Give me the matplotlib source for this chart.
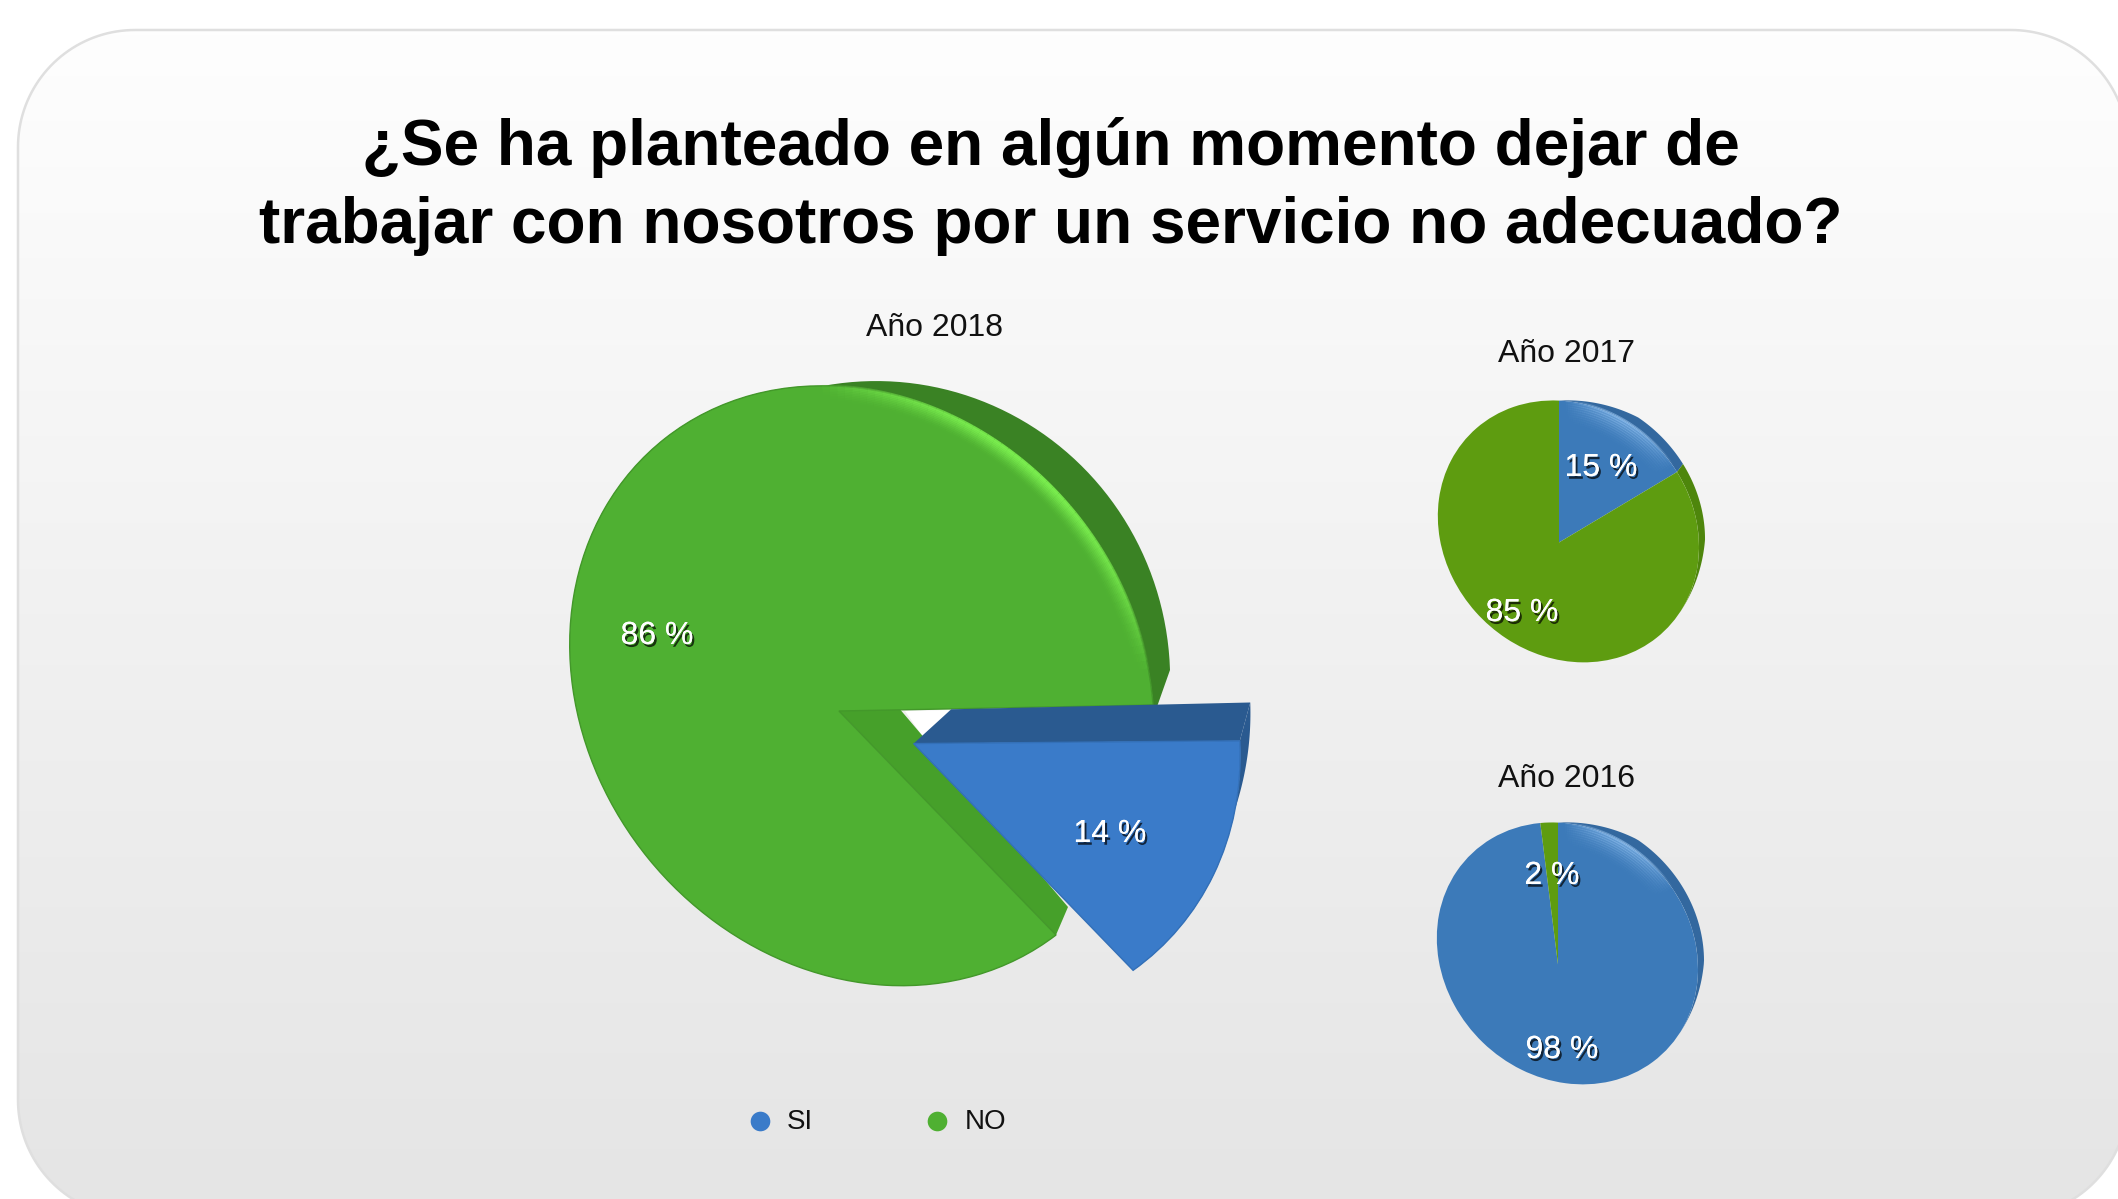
import numpy as np
import matplotlib
matplotlib.use('Agg')
import matplotlib.pyplot as plt
import matplotlib.patheffects as pe
from matplotlib.collections import LineCollection
from matplotlib.patches import Polygon
from matplotlib.transforms import Transform

plt.rcParams['font.family'] = ['Liberation Sans', 'DejaVu Sans']

title_lines = ['¿Se ha planteado en algún momento dejar de',
               'trabajar con nosotros por un servicio no adecuado?']
answers = ['SI', 'NO']
years = ['Año 2018', 'Año 2017', 'Año 2016']
values_2018 = [14, 86]
values_2017 = [15, 85]
values_2016 = [98, 2]

blue = '#3A7BC9'
green = '#4FB032'
green_rim = '#3A8224'
green_wall = '#46A02A'
blue_rim = '#2A5A90'
small_green = '#5E9C10'
small_green_rim = '#4E860C'
small_blue = '#3C7AB9'
small_blue_rim = '#33689F'


class Warp(Transform):
    # tilts the flat pie with a perspective matrix
    input_dims = 2
    output_dims = 2

    def __init__(self, H):
        super().__init__()
        self.H = H

    def transform_non_affine(self, values):
        v = np.asarray(values, dtype=float)
        p = np.column_stack([v, np.ones(len(v))]) @ self.H.T
        return p[:, :2] / p[:, 2:3]


def homography(src, dst):
    rows, rhs = [], []
    for (x, y), (u, v) in zip(src, dst):
        rows.append([x, y, 1, 0, 0, 0, -u * x, -u * y])
        rows.append([0, 0, 0, x, y, 1, -v * x, -v * y])
        rhs += [u, v]
    return np.append(np.linalg.solve(np.array(rows), np.array(rhs)), 1).reshape(3, 3)


def unit(deg):
    return np.array([np.cos(np.radians(deg)), np.sin(np.radians(deg))])


def arc(w, th1, th2, r=None, n=80):
    t = np.radians(np.linspace(th1, th2, n))
    r = w.r if r is None else r
    return np.column_stack([w.center[0] + r * np.cos(t), w.center[1] + r * np.sin(t)])


def gloss(ax, warp, w, th1, th2, depth, color, peak, z):
    # bright bevel that fades inward from the rim and towards both ends
    rgb = matplotlib.colors.to_rgb(color)
    for i, r in enumerate(np.linspace(1, 1 - depth, 12)):
        pts = warp.transform(arc(w, th1, th2, r, 60))
        segs = np.stack([pts[:-1], pts[1:]], axis=1)
        fade = np.sin(np.linspace(0, np.pi, 59)) * peak * (1 - i / 12) ** 2
        ax.add_collection(LineCollection(segs, colors=[rgb + (a,) for a in fade],
                                         linewidths=2.2, zorder=z, capstyle='butt'))


def rounded_box(x0, y0, x1, y1, r):
    corners = [(x0 + r, y0 + r, 180, 270), (x1 - r, y0 + r, 270, 360),
               (x1 - r, y1 - r, 0, 90), (x0 + r, y1 - r, 90, 180)]
    pts = []
    for cx, cy, a, b in corners:
        t = np.radians(np.linspace(a, b, 40))
        pts.append(np.column_stack([cx + r * np.cos(t), cy + r * np.sin(t)]))
    return np.vstack(pts)


fig = plt.figure(figsize=(21.18, 11.99), dpi=100, facecolor='white')
ax = fig.add_axes([0, 0, 1, 1])

# 2018, tilted and with the SI slice pulled out
cut = [unit(0), unit(180), unit(-50.4), unit(129.6)]
front = Warp(homography(cut, [(1153, 705), (578, 716), (1056, 935), (620, 485)]))
back_pts = np.array([(1170, 670), (580, 684), (1068, 907), (683, 454)])
back = Warp(homography(cut, back_pts))
back_si = Warp(homography(cut, back_pts + (7, 0)))

w18, _ = ax.pie(values_2018, explode=(0.265, 0), startangle=0, counterclock=False,
                colors=[blue, green])
si, no = w18
no.set_transform(front + ax.transData)
si.set_transform(front + ax.transData)
no.set(zorder=6, edgecolor='#43982A', linewidth=1)
si.set(zorder=10, edgecolor='#3370B8', linewidth=1)

rim = np.vstack([front.transform(arc(no, -2, 150)),
                 back.transform(arc(no, 0, 150))[::-1]])
ax.add_patch(Polygon(rim, color=green_rim, lw=0, zorder=2))
end = no.center + unit(-50.4)
wall = [front.transform([no.center])[0], back.transform([no.center])[0],
        back.transform([end])[0], front.transform([end])[0]]
ax.add_patch(Polygon(wall, color=green_wall, lw=0, zorder=3))
gloss(ax, front, no, 5, 85, 0.05, '#7CF050', 0.9, 7)

rim = np.vstack([front.transform(arc(si, si.theta1, si.theta2)),
                 back_si.transform(arc(si, si.theta1, si.theta2))[::-1]])
ax.add_patch(Polygon(rim, color=blue_rim, lw=0, zorder=8))
end = si.center + unit(si.theta2)
wall = [front.transform([si.center])[0], back_si.transform([si.center])[0],
        back_si.transform([end])[0], front.transform([end])[0]]
ax.add_patch(Polygon(wall, color=blue_rim, lw=0, zorder=9))

# gap between the slice and the pie shows white
ax.add_patch(Polygon([(905, 711), (950, 710), (925, 740)], color='white', lw=0, zorder=1.5))

# the two small ones share the same tilt
flat = np.array([unit(90), unit(-90), unit(36), unit(216)])
pie_2017 = np.array([(1559, 400.6), (1559, 660), (1677, 472), (1465, 598.6)])
pie_2016 = pie_2017 + (-1, 422)
rim_shift = np.array([6, -8])

for vals, dst in [(values_2017, pie_2017), (values_2016, pie_2016)]:
    face = Warp(homography(flat, dst))
    top, _ = ax.pie(vals, startangle=90, counterclock=False,
                    colors=[small_blue, small_green])
    for w, col in zip(top, [small_blue_rim, small_green_rim]):
        w.set_transform(face + ax.transData)
        w.set(zorder=3, linewidth=0)
        a, b = max(w.theta1, -25), min(w.theta2, 90)
        if a < b:
            # rim tapers off at both ends
            th = np.linspace(a, b, 80)
            taper = np.clip((90 - th) / 30, 0, 1) * np.clip((th + 25) / 30, 0, 1)
            edge = face.transform(arc(w, a, b))
            rim = np.vstack([edge, (edge + taper[:, None] * rim_shift)[::-1]])
            ax.add_patch(Polygon(rim, color=col, lw=0, zorder=2))
    gloss(ax, face, top[0], 38, 88, 0.16, '#A8D4FF', 0.5, 4)

# background card
ax.set_aspect('auto')
ax.axis('off')
card = Polygon(rounded_box(18, 30, 2128, 1217, 117), closed=True, facecolor='none',
               edgecolor='#DFDFDF', linewidth=1.8, zorder=1)
ax.add_patch(card)
grad = np.linspace(0, 1, 256).reshape(-1, 1)
img = ax.imshow(grad, extent=(0, 2118, 1199, 30), aspect='auto', zorder=0,
                cmap=matplotlib.colors.LinearSegmentedColormap.from_list(
                    'card', ['#FEFEFE', '#F1F1F1', '#E5E5E5']))
img.set_clip_path(card)
ax.set_xlim(0, 2118)
ax.set_ylim(1199, 0)

# texts
ax.text(1051, 147.5, title_lines[0], ha='center', va='center', fontsize=46,
        fontweight='bold', color='black', zorder=20)
ax.text(1051, 225.5, title_lines[1], ha='center', va='center', fontsize=46,
        fontweight='bold', color='black', zorder=20)
for label, (x, y) in zip(years, [(934, 328), (1567, 354), (1567, 779)]):
    ax.text(x, y, label, ha='center', va='center', fontsize=23, color='#111111', zorder=20)

shadow_fx = [pe.withSimplePatchShadow(offset=(1.5, -2), shadow_rgbFace='black', alpha=0.7),
             pe.Normal()]
marks = [(values_2018[1], 657, 636), (values_2018[0], 1110, 834),
         (values_2017[0], 1601, 468), (values_2017[1], 1522, 613),
         (values_2016[1], 1552, 876), (values_2016[0], 1562, 1050)]
for v, x, y in marks:
    ax.text(x, y, f'{v} %', ha='center', va='center', fontsize=23, color='white',
            path_effects=shadow_fx, zorder=20)

for name, col, mx, tx in zip(answers, [blue, green], [760, 937], [787, 965]):
    ax.scatter([mx], [1121], s=200, color=col, linewidths=0, zorder=20)
    ax.text(tx, 1122, name, ha='left', va='center', fontsize=20, color='#111111', zorder=20)

fig.savefig('out.png', dpi=100)
